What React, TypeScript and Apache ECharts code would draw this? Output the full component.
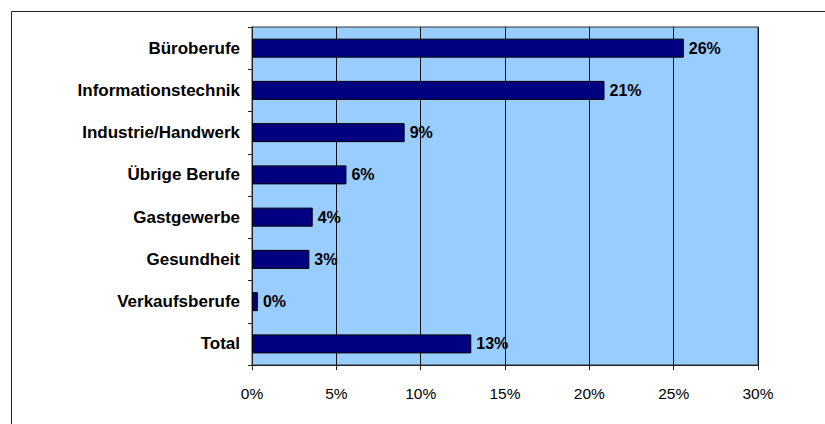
import React, { useEffect, useRef } from "react";
import * as echarts from "echarts";

const categories = [
  "Büroberufe",
  "Informationstechnik",
  "Industrie/Handwerk",
  "Übrige Berufe",
  "Gastgewerbe",
  "Gesundheit",
  "Verkaufsberufe",
  "Total",
];
const values = [25.6, 20.9, 9.05, 5.6, 3.6, 3.4, 0.35, 13.0];
const xTicks = [0, 5, 10, 15, 20, 25, 30];

const FONT = "'Liberation Sans', Arial, sans-serif";

export default function App() {
  const ref = useRef<HTMLDivElement>(null);
  useEffect(() => {
    if (!ref.current) return;
    const chart = echarts.init(ref.current, null, { renderer: "svg" });
    chart.setOption({
      animation: false,
      backgroundColor: "#ffffff",
      graphic: [
        {
          type: "rect",
          shape: { x: 11.5, y: 11.5, width: 830, height: 430 },
          style: { fill: "none", stroke: "#222", lineWidth: 1 },
          silent: true,
        },
      ],
      grid: {
        left: 252,
        top: 27,
        width: 506,
        height: 338,
        show: true,
        backgroundColor: "#99CCFF",
        borderColor: "#333",
        borderWidth: 1,
      },
      xAxis: {
        type: "value",
        min: xTicks[0],
        max: xTicks[xTicks.length - 1],
        interval: 5,
        axisLine: { show: true, lineStyle: { color: "#222", width: 1 } },
        axisTick: { show: true, length: 5, lineStyle: { color: "#222" } },
        splitLine: { show: true, lineStyle: { color: "#111", width: 1 } },
        axisLabel: {
          formatter: "{value}%",
          color: "#000",
          fontFamily: FONT,
          fontSize: 15.5,
          margin: 20,
        },
      },
      yAxis: {
        type: "category",
        data: categories,
        inverse: true,
        axisLine: { show: true, lineStyle: { color: "#222", width: 1 } },
        axisTick: { show: true, length: 4, lineStyle: { color: "#222" } },
        splitLine: { show: false },
        axisLabel: {
          color: "#000",
          fontFamily: FONT,
          fontSize: 17,
          fontWeight: "bold",
          margin: 12,
        },
      },
      series: [
        {
          type: "bar",
          data: values,
          barWidth: 19,
          itemStyle: { color: "#000080", borderColor: "#000", borderWidth: 1 },
          label: {
            show: true,
            position: "right",
            distance: 5,
            formatter: (p: any) => Math.round(p.value) + "%",
            color: "#000",
            fontFamily: FONT,
            fontSize: 16,
            fontWeight: "bold",
          },
        },
      ],
    });
    return () => chart.dispose();
  }, []);
  return (
    <div
      ref={ref}
      style={{ position: "fixed", left: 0, top: 0, width: 825, height: 424 }}
    />
  );
}
